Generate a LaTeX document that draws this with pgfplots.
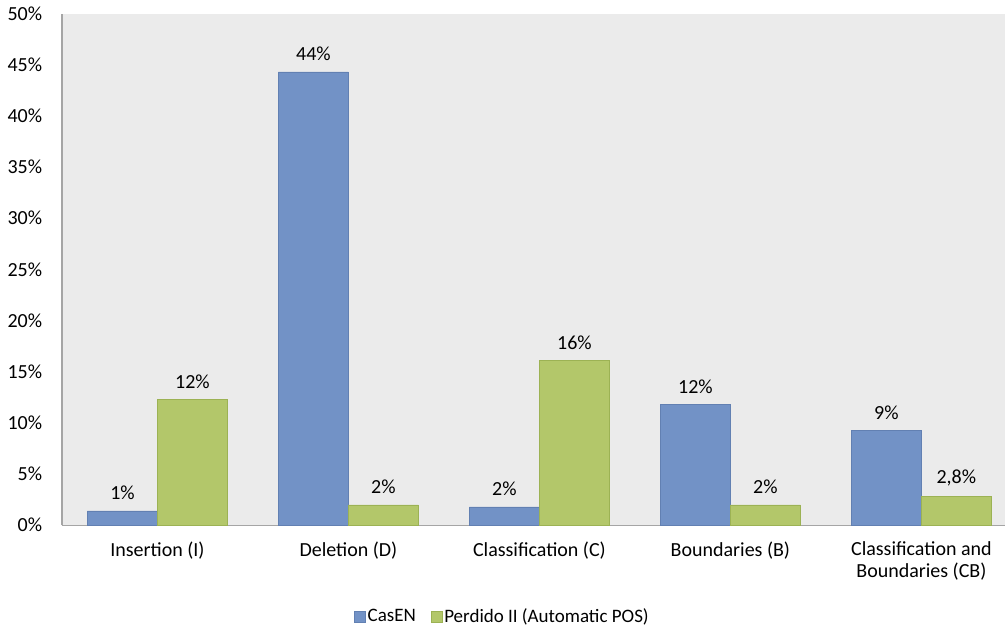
\documentclass[border=0pt]{standalone}
\usepackage{fontspec}
\setmainfont{Carlito}
\usepackage{pgfplots}
\usepackage{pgfplotstable}
\pgfplotsset{compat=1.18}
\usetikzlibrary{calc}
\definecolor{casen}{RGB}{114,146,198}
\definecolor{casenedge}{RGB}{98,128,178}
\definecolor{perdido}{RGB}{179,199,106}
\definecolor{perdidoedge}{RGB}{156,178,84}
\definecolor{plotbg}{RGB}{235,235,235}
\definecolor{axisgray}{RGB}{165,165,165}
\pgfplotstableread{
x y lab
0 1.4 1\%
1 44.3 44\%
2 1.8 2\%
3 11.8 12\%
4 9.3 9\%
}\casentab
\pgfplotstableread{
x y lab
0 12.3 12\%
1 2.0 2\%
2 16.1 16\%
3 2.0 2\%
4 2.8 2,8\%
}\perdidotab
\begin{document}
\fontsize{20bp}{22bp}\selectfont
\begin{tikzpicture}
\begin{axis}[
  name=ax,
  scale only axis, width=944bp, height=512bp,
  ybar=0pt, bar width=70bp,
  xmin=-0.5, xmax=4.44, ymin=0, ymax=50,
  axis background/.style={fill=plotbg},
  axis x line=bottom, axis y line=left,
  axis line style={draw=axisgray, line width=1.2bp, -},
  major tick length=0pt,
  xtick={0,1,2,3,4},
  xticklabels={Insertion (I), Deletion (D), Classification (C), Boundaries (B), {Classification and\\Boundaries (CB)}},
  xticklabel style={align=center, yshift=-10bp, font=\fontsize{20bp}{22bp}\selectfont},
  ytick={0,5,...,50},
  yticklabel={\pgfmathprintnumber{\tick}\%},
  yticklabel style={xshift=-13bp, font=\fontsize{20bp}{22bp}\selectfont},
  /pgf/number format/assume math mode=true,
  point meta=explicit symbolic,
  nodes near coords,
  every node near coord/.append style={font=\fontsize{20bp}{22bp}\selectfont, yshift=4bp, text=black},
  legend columns=2,
  legend style={at={(0.467,-0.179)}, anchor=center, draw=none, fill=none,
    font=\fontsize{19bp}{21bp}\selectfont,
    /tikz/every even column/.append style={column sep=13bp}},
  legend image code/.code={\draw[#1] (0bp,-5.5bp) rectangle (11bp,5.5bp);},
]
\addplot[fill=casen, draw=casenedge] table[x=x, y=y, meta=lab] {\casentab};
\addplot[fill=perdido, draw=perdidoedge] table[x=x, y=y, meta=lab] {\perdidotab};
\legend{CasEN, Perdido II (Automatic POS)}
\end{axis}
\path ($(ax.south west)+(-62bp,-106bp)$) rectangle ($(ax.north east)+(0bp,12bp)$);
\end{tikzpicture}
\end{document}
